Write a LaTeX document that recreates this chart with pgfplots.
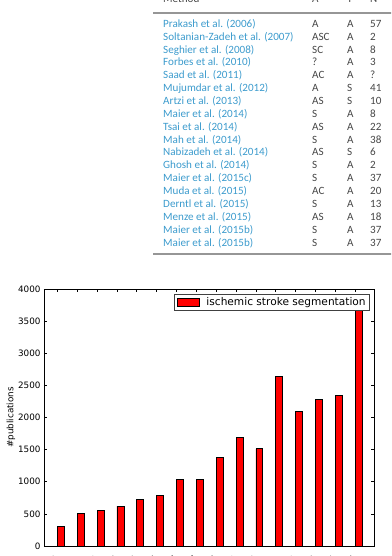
\documentclass[border=0pt]{standalone}
\usepackage{pgfplots}
\pgfplotsset{compat=1.18}
\usepackage{fontspec}
\setmainfont{DejaVu Sans}
\newfontfamily\tabfont{Carlito}
\definecolor{linkblue}{RGB}{60,155,205}
\definecolor{tabgrey}{RGB}{70,70,70}
\definecolor{rulegrey}{RGB}{150,150,150}
\begin{document}
\begin{tikzpicture}[x=1pt,y=1pt]
\path[use as bounding box, clip] (0,0) rectangle (391,556);
% ---- table ----
\draw[rulegrey, line width=1.5pt] (153,543) -- (395,543);
\draw[rulegrey, line width=1.5pt] (153,302) -- (395,302);
\begin{scope}[every node/.style={anchor=base west, inner sep=0pt, font=\tabfont\fontsize{11.1}{13}\selectfont}]
\node[text=tabgrey] at (163,553.5) {Method};
\node[text=tabgrey] at (312,553.5) {A};
\node[text=tabgrey] at (347,553.5) {T};
\node[text=tabgrey] at (370,553.5) {N};
\foreach \m/\a/\t/\n [count=\k from 0] in {
Prakash et al. (2006)/A/A/57,
Soltanian-Zadeh et al. (2007)/ASC/A/2,
Seghier et al. (2008)/SC/A/8,
Forbes et al. (2010)/?/A/3,
Saad et al. (2011)/AC/A/?,
Mujumdar et al. (2012)/A/S/41,
Artzi et al. (2013)/AS/S/10,
Maier et al. (2014)/S/A/8,
Tsai et al. (2014)/AS/A/22,
Mah et al. (2014)/S/A/38,
Nabizadeh et al. (2014)/AS/S/6,
Ghosh et al. (2014)/S/A/2,
Maier et al. (2015c)/S/A/37,
Muda et al. (2015)/AC/A/20,
Derntl et al. (2015)/S/A/13,
Menze et al. (2015)/AS/A/18,
Maier et al. (2015b)/S/A/37,
Maier et al. (2015b)/S/A/37}{
  \pgfmathsetmacro\yb{556-27.3-12.87*\k}
  \node[text=linkblue] at (163,\yb) {\m};
  \node[text=tabgrey] at (312,\yb) {\a};
  \node[text=tabgrey] at (347,\yb) {\t};
  \node[text=tabgrey] at (370,\yb) {\n};
}
\end{scope}
% ---- chart ----
\begin{axis}[
  at={(44pt,10pt)}, anchor=south west,
  scale only axis, width=330pt, height=257pt,
  xmin=-0.675, xmax=15.95, ymin=0, ymax=4000,
  ytick={0,500,1000,1500,2000,2500,3000,3500,4000},
  xtick={0,1,2,3,4,5,6,7,8,9,10,11,12,13,14,15},
  xticklabels={2000,2001,2002,2003,2004,2005,2006,2007,2008,2009,2010,2011,2012,2013,2014,2015},
  tick align=inside, major tick length=2.9pt,
  every tick/.style={black, line width=0.7pt},
  axis line style={line width=0.7pt},
  /pgf/number format/assume math mode=true,
  /pgf/number format/1000 sep={},
  ticklabel style={font=\fontsize{8.8}{10}\selectfont},
  xticklabel style={rotate=45, anchor=north east, xshift=-5pt},
  ylabel={\#publications},
  ylabel style={at={(axis description cs:-0.1,0.5)}, anchor=center, font=\fontsize{8.8}{10}\selectfont},
  legend style={at={(axis description cs:0.988,0.9805)}, anchor=north east,
    draw=black!75, line width=0.7pt, font=\fontsize{10.6}{12}\selectfont,
    inner xsep=2pt, inner ysep=1pt},
  legend image code/.code={\draw[fill=red,draw=black,line width=0.7pt] (0pt,-4pt) rectangle (22pt,4pt); \path (27pt,0pt);},
]
\addplot[ybar, bar width=0.35, bar shift=0.175, fill=red, draw=black, line width=0.7pt]
coordinates {(0,300) (1,508) (2,549) (3,622) (4,730) (5,782) (6,1041) (7,1031) (8,1373) (9,1694) (10,1513) (11,2642) (12,2093) (13,2279) (14,2347) (15,3800)};
\addlegendentry{ischemic stroke segmentation}
\end{axis}
\end{tikzpicture}
\end{document}
